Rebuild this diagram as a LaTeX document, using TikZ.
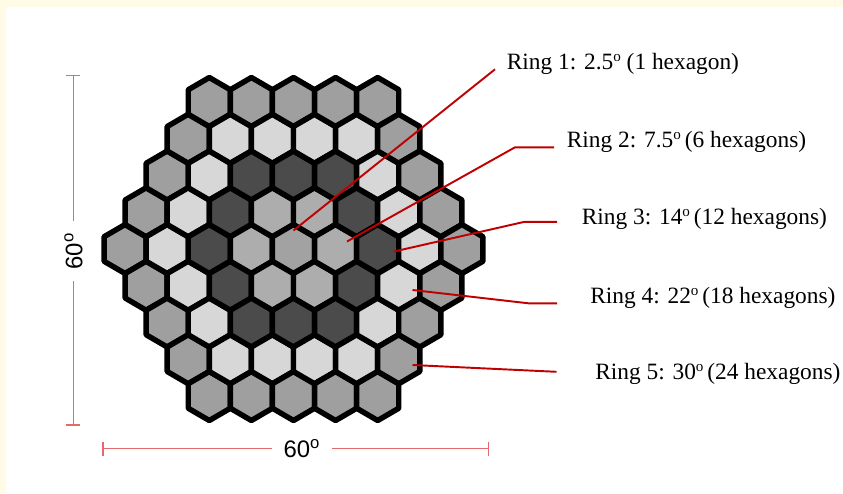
\documentclass[tikz,border=0pt]{standalone}
\usepackage{fontspec}
\setmainfont{Liberation Serif}
\setsansfont{Liberation Sans}
\usetikzlibrary{arrows.meta}

\definecolor{anillo0}{HTML}{A2A2A2}
\definecolor{anillo1}{HTML}{ADADAD}
\definecolor{anillo2}{HTML}{4B4B4B}
\definecolor{anillo3}{HTML}{D7D7D7}
\definecolor{anillo4}{HTML}{9F9F9F}
\definecolor{rojoguia}{HTML}{C00000}
\definecolor{rojocota}{HTML}{E36A6A}
\definecolor{crema}{HTML}{FFFBE6}

% grado como o volada pequena
\newcommand\grado{\raisebox{4.6pt}{\fontsize{8.6}{8}\selectfont o}}

\tikzset{
  hexa/.style={draw=black,line width=3.1pt,line join=round},
  guia/.style={draw=rojoguia,line width=1.1pt},
  cota/.style={draw=rojocota,line width=0.8pt},
  etiqueta/.style={anchor=base west,inner sep=0pt,font=\fontsize{13.3}{16}\selectfont},
  cotatxt/.style={inner xsep=2.2mm,inner ysep=0pt,font=\sffamily\fontsize{13.6}{16}\selectfont}
}

\begin{document}
\begin{tikzpicture}
  % fondo
  \fill[crema] (-5.87,-4.88) rectangle (10.99,4.98);
  \fill[white] (-5.74,-4.88) rectangle (10.99,4.84);
  \useasboundingbox (-5.87,-4.88) rectangle (10.99,4.98);
  % panal de hexagonos, color segun el anillo
  \foreach \q in {-4,...,4}
    \foreach \r in {-4,...,4}{
      \pgfmathtruncatemacro\d{max(abs(\q),abs(\r),abs(\q+\r))}
      \ifnum\d<5
        \draw[hexa,fill=anillo\d] ({0.842*(\q+\r/2)},{-0.735*\r})
          +(0,0.49) -- +(-0.421,0.245) -- +(-0.421,-0.245) -- +(0,-0.49)
          -- +(0.421,-0.245) -- +(0.421,0.245) -- cycle;
      \fi
    }
  % etiquetas de los anillos
  \node[etiqueta] (r1) at (4.26,3.594) {Ring 1: 2.5\grado{} (1 hexagon)};
  \node[etiqueta] (r2) at (5.46,2.034) {Ring 2: 7.5\grado\,(6 hexagons)};
  \node[etiqueta] (r3) at (5.76,0.494) {Ring 3: 14\grado\,(12 hexagons)};
  \node[etiqueta] (r4) at (5.93,-1.086) {Ring 4: 22\grado\,(18 hexagons)};
  \node[etiqueta] (r5) at (6.03,-2.606) {Ring 5: 30\grado\,(24 hexagons)};
  % lineas guia
  \coordinate (c1) at (0,0.37);
  \coordinate (c2) at (1.07,0.15);
  \coordinate (c3) at (2.01,-0.05);
  \coordinate (c4) at (2.38,-0.82);
  \coordinate (c5) at (2.38,-2.32);
  \coordinate (e1) at ([xshift=-2.3mm]r1.base west);
  \coordinate (e2) at ([xshift=-2.5mm]r2.base west);
  \coordinate (e3) at ([xshift=-4.9mm,yshift=0.5mm]r3.base west);
  \coordinate (e4) at ([xshift=-6.6mm]r4.base west);
  \coordinate (e5) at ([xshift=-7.7mm,yshift=1.5mm]r5.base west);
  \coordinate (b2) at ([xshift=-7.8mm]e2);
  \coordinate (b3) at ([xshift=-6.5mm]e3);
  \coordinate (b4) at ([xshift=-5.7mm]e4);
  \draw[guia] (c1) -- (e1);
  \draw[guia] (c2) -- (b2) -- (e2);
  \draw[guia] (c3) -- (b3) -- (e3);
  \draw[guia] (c4) -- (b4) -- (e4);
  \draw[guia] (c5) -- (e5);
  % cotas de 60 grados
  \coordinate (v1) at (-4.40,3.49);
  \coordinate (v2) at (-4.40,-3.53);
  \coordinate (h1) at (-3.82,-3.99);
  \coordinate (h2) at (3.91,-3.99);
  \node[cotatxt,rotate=90] (vl) at (-4.40,-0.04) {60\textsuperscript{o}};
  \node[cotatxt] (hl) at (0.17,-3.99) {60\textsuperscript{o}};
  \draw[cota,{Bar[width=2.8mm]}-] (v1) -- (vl);
  \draw[cota,{Bar[width=2.8mm]}-] (v2) -- (vl);
  \draw[cota,{Bar[width=2.8mm]}-] (h1) -- (hl);
  \draw[cota,{Bar[width=2.8mm]}-] (h2) -- (hl);
\end{tikzpicture}
\end{document}
